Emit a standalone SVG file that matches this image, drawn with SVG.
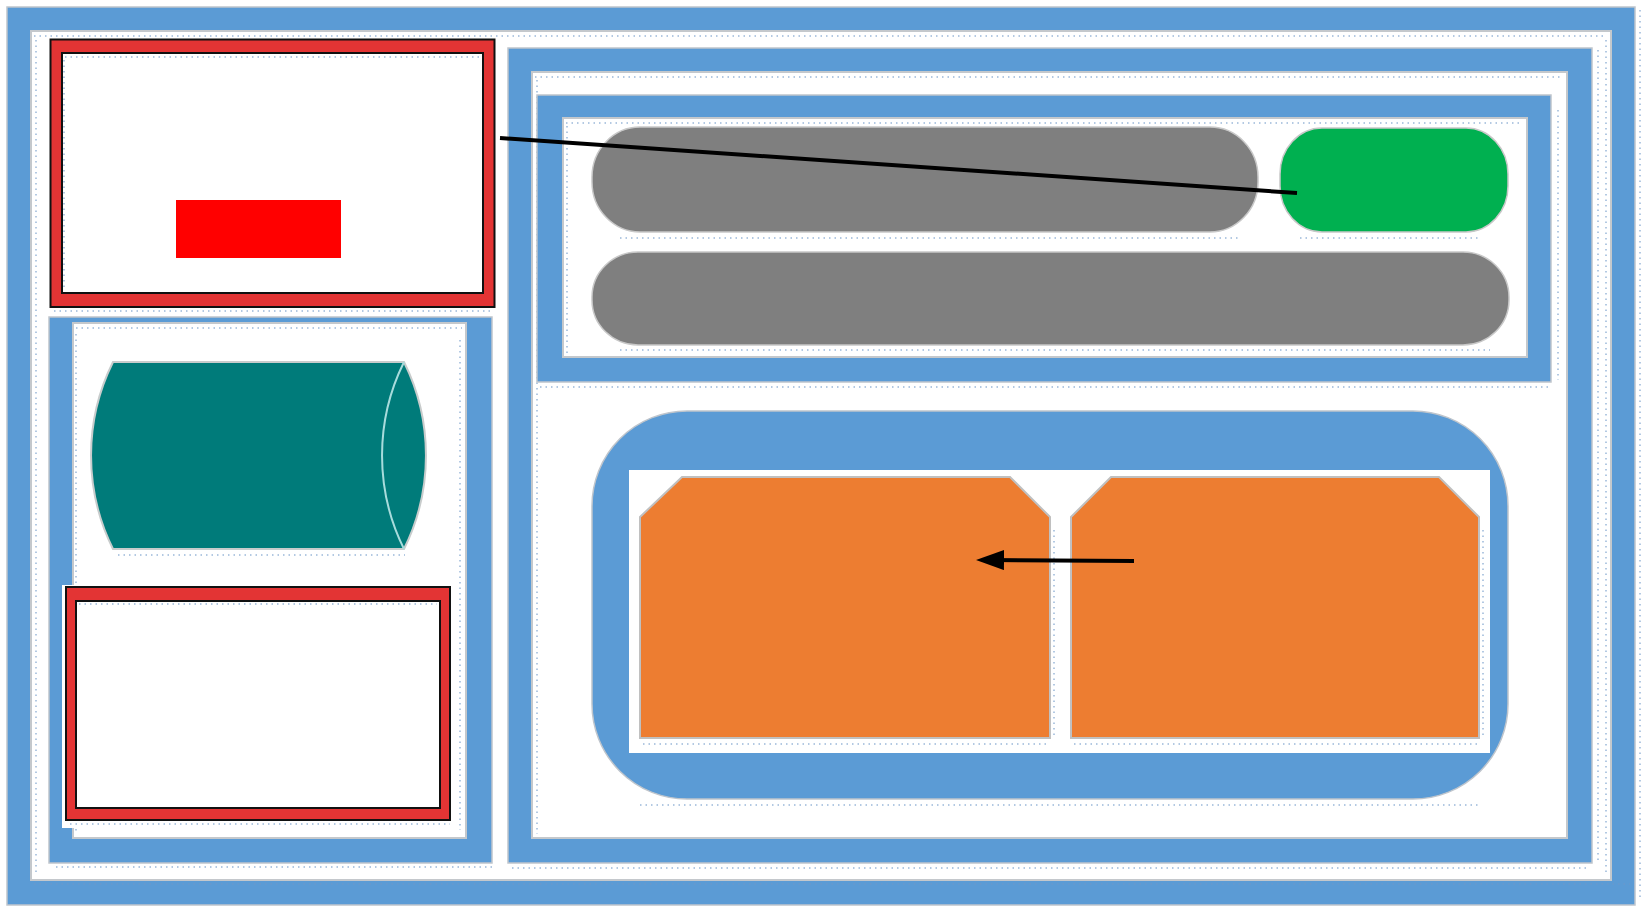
<svg xmlns="http://www.w3.org/2000/svg" width="1645" height="909" viewBox="0 0 1645 909">
  <defs>
    <style>
      .blue { fill: #5B9BD5; stroke: #BFC5CC; stroke-width: 1.5; }
      .inner { fill: #FFFFFF; stroke: #C4C8CC; stroke-width: 2; }
      .redframe { fill: #E33434; stroke: #111111; stroke-width: 2; }
      .redinner { fill: #FFFFFF; stroke: #111111; stroke-width: 2; }
      .pill { fill: #7F7F7F; stroke: #C8C8C8; stroke-width: 1.5; }
      .green { fill: #00B050; stroke: #C8C8C8; stroke-width: 1.5; }
      .orange { fill: #ED7D31; stroke: #C0C0C0; stroke-width: 2; }
      .dots { fill: none; stroke: #6E98C8; stroke-width: 1.5; stroke-dasharray: 1.5 4; opacity: 0.7; }
      .conn { stroke: #000000; stroke-width: 4; fill: none; }
    </style>
    <marker id="arrow" viewBox="0 0 28 20" refX="14" refY="10" markerWidth="28" markerHeight="20" markerUnits="userSpaceOnUse" orient="auto">
      <path d="M0,0 L28,10 L0,20 Z" fill="#000000"/>
    </marker>
  </defs>

  <rect x="0" y="0" width="1645" height="909" fill="#FFFFFF"/>

  <g id="outer-frame">
    <rect class="blue" x="7" y="7" width="1628" height="898"/>
    <rect class="inner" x="31" y="31" width="1580" height="849"/>
    <path class="dots" d="M34,36 H1605 M36,40 V876 M1606,40 V876 M34,884 H1630 M1640,10 V900"/>
  </g>

  <g id="top-left-box">
    <rect class="redframe" x="50.5" y="39.5" width="444" height="267.5"/>
    <rect class="redinner" x="62" y="53" width="421" height="240"/>
    <path class="dots" d="M65,57 H480 M64,60 V290 M54,311 H492"/>
    <rect id="red-block" x="176" y="200" width="165" height="58" fill="#FF0000"/>
  </g>

  <g id="left-container">
    <rect class="blue" x="49" y="317" width="443" height="546"/>
    <rect class="inner" x="73" y="323" width="393" height="515"/>
    <path class="dots" d="M76,328 H462 M76,334 V834 M56,867 H492 M460,340 V830"/>
  </g>

  <g id="teal-cylinder">
    <path d="M113,362 L404,362 A210,210 0 0 1 404,549 L113,549 A210,210 0 0 1 113,362 Z" fill="#007B7A" stroke="#C8CCCC" stroke-width="2"/>
    <path d="M404,362 A210,210 0 0 0 404,549" fill="none" stroke="#A8DCDC" stroke-width="2"/>
    <path class="dots" d="M118,555 H405"/>
  </g>

  <g id="bottom-left-box">
    <rect x="62" y="585" width="390" height="243" fill="#FFFFFF"/>
    <rect class="redframe" x="66" y="587" width="384" height="233"/>
    <rect class="redinner" x="76" y="601" width="364" height="207"/>
    <path class="dots" d="M79,604 H437 M70,824 H450"/>
  </g>

  <g id="right-container">
    <rect class="blue" x="508" y="48" width="1084" height="815"/>
    <rect class="inner" x="532" y="72" width="1035" height="766"/>
    <path class="dots" d="M535,77 H1562 M537,80 V834 M512,868 H1590 M1598,50 V860"/>
  </g>

  <g id="top-right-container">
    <rect class="blue" x="537" y="95" width="1014" height="287"/>
    <rect class="inner" x="563" y="118" width="964" height="239"/>
    <path class="dots" d="M566,123 H1522 M567,126 V353 M540,387 H1550 M1558,110 V380"/>
  </g>

  <g id="gray-pill-1">
    <rect class="pill" x="592" y="127" width="666" height="105" rx="48" ry="50"/>
    <path class="dots" d="M620,238 H1240"/>
  </g>

  <g id="green-pill">
    <rect class="green" x="1280" y="128" width="228" height="104" rx="42" ry="46"/>
    <path class="dots" d="M1300,238 H1480"/>
  </g>

  <g id="gray-pill-2">
    <rect class="pill" x="592" y="252" width="917" height="93" rx="46" ry="45"/>
    <path class="dots" d="M620,350 H1490"/>
  </g>

  <g id="rounded-container">
    <rect class="blue" x="592" y="411" width="916" height="388" rx="95" ry="95"/>
    <rect x="629" y="470" width="861" height="283" fill="#FFFFFF"/>
    <path class="dots" d="M640,805 H1480"/>
  </g>

  <g id="orange-left">
    <polygon class="orange" points="640,517 682,477 1010,477 1050,517 1050,738 640,738"/>
    <path class="dots" d="M643,744 H1050 M1054,530 V735"/>
  </g>

  <g id="orange-right">
    <polygon class="orange" points="1071,517 1111,477 1439,477 1479,517 1479,738 1071,738"/>
    <path class="dots" d="M1074,744 H1480 M1483,530 V735"/>
  </g>

  <g id="connectors">
    <line class="conn" x1="500" y1="138" x2="1297" y2="193"/>
    <line class="conn" x1="1134" y1="561" x2="990" y2="560" marker-end="url(#arrow)"/>
  </g>
</svg>
